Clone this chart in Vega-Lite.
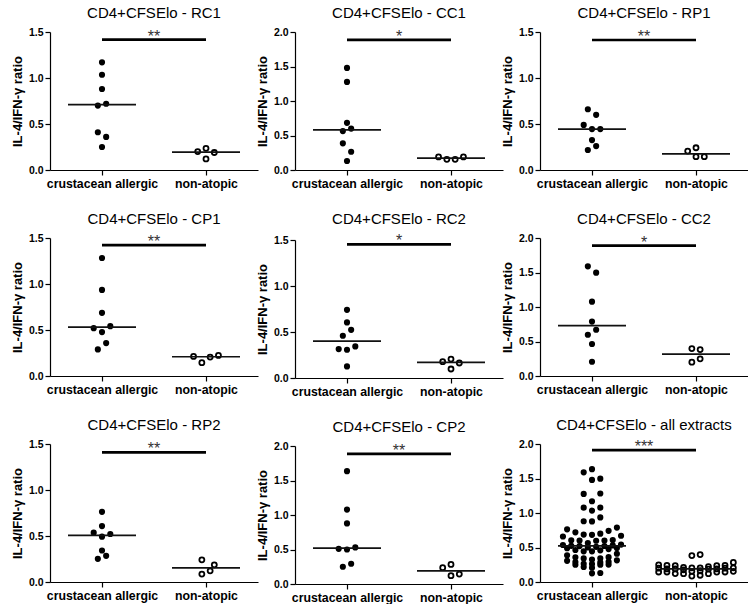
{
  "$schema": "https://vega.github.io/schema/vega-lite/v6.json",
  "padding": {"left": 11, "top": 6, "right": 0, "bottom": 0},
  "config": {
    "font": "Liberation Sans",
    "view": {"stroke": null},
    "axis": {"grid": false, "domainColor": "#000", "tickColor": "#000", "labelColor": "#000", "titleColor": "#000", "labelFont": "Liberation Sans", "titleFont": "Liberation Sans", "tickSize": 5, "domainWidth": 1.2, "tickWidth": 1.2}
  },
  "data": {"values": [
    {"p":"RC1","g":"A","v":1.17,"s":0},{"p":"RC1","g":"A","v":1.035,"s":0},{"p":"RC1","g":"A","v":0.88,"s":0},{"p":"RC1","g":"A","v":0.70,"s":-0.5},{"p":"RC1","g":"A","v":0.72,"s":0.5},{"p":"RC1","g":"A","v":0.41,"s":-0.5},{"p":"RC1","g":"A","v":0.36,"s":0.5},{"p":"RC1","g":"A","v":0.25,"s":0},
    {"p":"RC1","g":"N","v":0.20,"s":-1},{"p":"RC1","g":"N","v":0.236,"s":0},{"p":"RC1","g":"N","v":0.19,"s":1},{"p":"RC1","g":"N","v":0.12,"s":0},
    {"p":"RC1","g":"A","g2":"N","v":1.417,"t":"**"},

    {"p":"CC1","g":"A","v":1.48,"s":0},{"p":"CC1","g":"A","v":1.277,"s":0},{"p":"CC1","g":"A","v":0.684,"s":0},{"p":"CC1","g":"A","v":0.564,"s":-0.5},{"p":"CC1","g":"A","v":0.60,"s":0.5},{"p":"CC1","g":"A","v":0.386,"s":-0.5},{"p":"CC1","g":"A","v":0.265,"s":0.5},{"p":"CC1","g":"A","v":0.13,"s":0},
    {"p":"CC1","g":"N","v":0.19,"s":-1.5},{"p":"CC1","g":"N","v":0.155,"s":-0.5},{"p":"CC1","g":"N","v":0.155,"s":0.5},{"p":"CC1","g":"N","v":0.19,"s":1.5},
    {"p":"CC1","g":"A","g2":"N","v":1.887,"t":"*"},

    {"p":"RP1","g":"A","v":0.66,"s":-0.5},{"p":"RP1","g":"A","v":0.60,"s":0.5},{"p":"RP1","g":"A","v":0.49,"s":-1},{"p":"RP1","g":"A","v":0.445,"s":0},{"p":"RP1","g":"A","v":0.445,"s":1},{"p":"RP1","g":"A","v":0.325,"s":0},{"p":"RP1","g":"A","v":0.26,"s":0.5},{"p":"RP1","g":"A","v":0.217,"s":-0.5},
    {"p":"RP1","g":"N","v":0.206,"s":-1},{"p":"RP1","g":"N","v":0.242,"s":0},{"p":"RP1","g":"N","v":0.145,"s":0},{"p":"RP1","g":"N","v":0.145,"s":1},
    {"p":"RP1","g":"A","g2":"N","v":1.413,"t":"**"},

    {"p":"CP1","g":"A","v":1.283,"s":0},{"p":"CP1","g":"A","v":0.936,"s":0},{"p":"CP1","g":"A","v":0.687,"s":0},{"p":"CP1","g":"A","v":0.52,"s":-1},{"p":"CP1","g":"A","v":0.542,"s":1},{"p":"CP1","g":"A","v":0.477,"s":0},{"p":"CP1","g":"A","v":0.358,"s":0.5},{"p":"CP1","g":"A","v":0.289,"s":-0.5},
    {"p":"CP1","g":"N","v":0.213,"s":-1.5},{"p":"CP1","g":"N","v":0.145,"s":-0.5},{"p":"CP1","g":"N","v":0.206,"s":0.5},{"p":"CP1","g":"N","v":0.224,"s":1.5},
    {"p":"CP1","g":"A","g2":"N","v":1.422,"t":"**"},

    {"p":"RC2","g":"A","v":0.741,"s":0},{"p":"RC2","g":"A","v":0.604,"s":0},{"p":"RC2","g":"A","v":0.524,"s":0.5},{"p":"RC2","g":"A","v":0.459,"s":-0.5},{"p":"RC2","g":"A","v":0.314,"s":-1},{"p":"RC2","g":"A","v":0.307,"s":0},{"p":"RC2","g":"A","v":0.343,"s":1},{"p":"RC2","g":"A","v":0.126,"s":0},
    {"p":"RC2","g":"N","v":0.177,"s":-1},{"p":"RC2","g":"N","v":0.206,"s":0},{"p":"RC2","g":"N","v":0.163,"s":1},{"p":"RC2","g":"N","v":0.098,"s":0},
    {"p":"RC2","g":"A","g2":"N","v":1.453,"t":"*"},

    {"p":"CC2","g":"A","v":1.589,"s":-0.5},{"p":"CC2","g":"A","v":1.498,"s":0.5},{"p":"CC2","g":"A","v":1.077,"s":0},{"p":"CC2","g":"A","v":0.789,"s":0},{"p":"CC2","g":"A","v":0.598,"s":-0.5},{"p":"CC2","g":"A","v":0.67,"s":0.5},{"p":"CC2","g":"A","v":0.464,"s":0},{"p":"CC2","g":"A","v":0.206,"s":0},
    {"p":"CC2","g":"N","v":0.397,"s":-0.5},{"p":"CC2","g":"N","v":0.383,"s":0.5},{"p":"CC2","g":"N","v":0.20,"s":-0.5},{"p":"CC2","g":"N","v":0.249,"s":0.5},
    {"p":"CC2","g":"A","g2":"N","v":1.89,"t":"*"},

    {"p":"RP2","g":"A","v":0.763,"s":0},{"p":"RP2","g":"A","v":0.608,"s":0},{"p":"RP2","g":"A","v":0.536,"s":-1},{"p":"RP2","g":"A","v":0.522,"s":1},{"p":"RP2","g":"A","v":0.493,"s":0},{"p":"RP2","g":"A","v":0.342,"s":0},{"p":"RP2","g":"A","v":0.284,"s":0.5},{"p":"RP2","g":"A","v":0.252,"s":-0.5},
    {"p":"RP2","g":"N","v":0.241,"s":-0.5},{"p":"RP2","g":"N","v":0.187,"s":1},{"p":"RP2","g":"N","v":0.122,"s":0.5},{"p":"RP2","g":"N","v":0.086,"s":-0.5},
    {"p":"RP2","g":"A","g2":"N","v":1.41,"t":"**"},

    {"p":"CP2","g":"A","v":1.635,"s":0},{"p":"CP2","g":"A","v":1.079,"s":0},{"p":"CP2","g":"A","v":0.878,"s":0},{"p":"CP2","g":"A","v":0.51,"s":-1},{"p":"CP2","g":"A","v":0.50,"s":0},{"p":"CP2","g":"A","v":0.53,"s":1},{"p":"CP2","g":"A","v":0.25,"s":-0.5},{"p":"CP2","g":"A","v":0.293,"s":0.5},
    {"p":"CP2","g":"N","v":0.236,"s":-1},{"p":"CP2","g":"N","v":0.284,"s":0},{"p":"CP2","g":"N","v":0.12,"s":0},{"p":"CP2","g":"N","v":0.144,"s":1},
    {"p":"CP2","g":"A","g2":"N","v":1.885,"t":"**"},

    {"p":"all extracts","g":"A","v":1.635,"s":0},{"p":"all extracts","g":"A","v":1.589,"s":-1},{"p":"all extracts","g":"A","v":1.48,"s":0},{"p":"all extracts","g":"A","v":1.498,"s":1},{"p":"all extracts","g":"A","v":1.277,"s":-1},{"p":"all extracts","g":"A","v":1.283,"s":1},{"p":"all extracts","g":"A","v":1.17,"s":0},{"p":"all extracts","g":"A","v":1.077,"s":-1},{"p":"all extracts","g":"A","v":1.035,"s":0},{"p":"all extracts","g":"A","v":1.079,"s":1},{"p":"all extracts","g":"A","v":0.88,"s":-1},{"p":"all extracts","g":"A","v":0.878,"s":0},{"p":"all extracts","g":"A","v":0.936,"s":1},
    {"p":"all extracts","g":"A","v":0.684,"s":0},{"p":"all extracts","g":"A","v":0.687,"s":-1},{"p":"all extracts","g":"A","v":0.70,"s":1},{"p":"all extracts","g":"A","v":0.72,"s":-2},{"p":"all extracts","g":"A","v":0.741,"s":2},{"p":"all extracts","g":"A","v":0.763,"s":-3},{"p":"all extracts","g":"A","v":0.789,"s":3},
    {"p":"all extracts","g":"A","v":0.564,"s":-0.5},{"p":"all extracts","g":"A","v":0.598,"s":0.5},{"p":"all extracts","g":"A","v":0.60,"s":-1.5},{"p":"all extracts","g":"A","v":0.60,"s":1.5},{"p":"all extracts","g":"A","v":0.604,"s":-2.5},{"p":"all extracts","g":"A","v":0.608,"s":2.5},{"p":"all extracts","g":"A","v":0.66,"s":-3.5},{"p":"all extracts","g":"A","v":0.67,"s":3.5},
    {"p":"all extracts","g":"A","v":0.50,"s":-0.5},{"p":"all extracts","g":"A","v":0.51,"s":0.5},{"p":"all extracts","g":"A","v":0.52,"s":-1.5},{"p":"all extracts","g":"A","v":0.522,"s":1.5},{"p":"all extracts","g":"A","v":0.524,"s":-2.5},{"p":"all extracts","g":"A","v":0.53,"s":2.5},{"p":"all extracts","g":"A","v":0.536,"s":-3.5},{"p":"all extracts","g":"A","v":0.542,"s":3.5},
    {"p":"all extracts","g":"A","v":0.445,"s":0},{"p":"all extracts","g":"A","v":0.445,"s":-1},{"p":"all extracts","g":"A","v":0.459,"s":1},{"p":"all extracts","g":"A","v":0.464,"s":-2},{"p":"all extracts","g":"A","v":0.477,"s":2},{"p":"all extracts","g":"A","v":0.49,"s":-3},{"p":"all extracts","g":"A","v":0.493,"s":3},
    {"p":"all extracts","g":"A","v":0.325,"s":0},{"p":"all extracts","g":"A","v":0.342,"s":-1},{"p":"all extracts","g":"A","v":0.343,"s":1},{"p":"all extracts","g":"A","v":0.358,"s":-2},{"p":"all extracts","g":"A","v":0.36,"s":2},{"p":"all extracts","g":"A","v":0.386,"s":-3},{"p":"all extracts","g":"A","v":0.41,"s":3},
    {"p":"all extracts","g":"A","v":0.26,"s":0},{"p":"all extracts","g":"A","v":0.265,"s":-1},{"p":"all extracts","g":"A","v":0.284,"s":1},{"p":"all extracts","g":"A","v":0.289,"s":-2},{"p":"all extracts","g":"A","v":0.293,"s":2},{"p":"all extracts","g":"A","v":0.307,"s":-3},{"p":"all extracts","g":"A","v":0.314,"s":3},
    {"p":"all extracts","g":"A","v":0.206,"s":0},{"p":"all extracts","g":"A","v":0.217,"s":-1},{"p":"all extracts","g":"A","v":0.25,"s":1},{"p":"all extracts","g":"A","v":0.25,"s":-2},{"p":"all extracts","g":"A","v":0.252,"s":2},
    {"p":"all extracts","g":"A","v":0.126,"s":0},{"p":"all extracts","g":"A","v":0.13,"s":1},
    {"p":"all extracts","g":"N","v":0.383,"s":-0.5},{"p":"all extracts","g":"N","v":0.397,"s":0.5},
    {"p":"all extracts","g":"N","v":0.086,"s":-0.5},{"p":"all extracts","g":"N","v":0.098,"s":0.5},{"p":"all extracts","g":"N","v":0.12,"s":-1.5},{"p":"all extracts","g":"N","v":0.12,"s":1.5},{"p":"all extracts","g":"N","v":0.122,"s":-2.5},{"p":"all extracts","g":"N","v":0.144,"s":2.5},{"p":"all extracts","g":"N","v":0.145,"s":-3.5},{"p":"all extracts","g":"N","v":0.145,"s":3.5},{"p":"all extracts","g":"N","v":0.145,"s":-4.5},{"p":"all extracts","g":"N","v":0.155,"s":4.5},
    {"p":"all extracts","g":"N","v":0.155,"s":-0.5},{"p":"all extracts","g":"N","v":0.163,"s":0.5},{"p":"all extracts","g":"N","v":0.177,"s":-1.5},{"p":"all extracts","g":"N","v":0.187,"s":1.5},{"p":"all extracts","g":"N","v":0.19,"s":-2.5},{"p":"all extracts","g":"N","v":0.19,"s":2.5},{"p":"all extracts","g":"N","v":0.19,"s":-3.5},{"p":"all extracts","g":"N","v":0.20,"s":3.5},{"p":"all extracts","g":"N","v":0.20,"s":-4.5},{"p":"all extracts","g":"N","v":0.206,"s":4.5},
    {"p":"all extracts","g":"N","v":0.206,"s":-0.5},{"p":"all extracts","g":"N","v":0.206,"s":0.5},{"p":"all extracts","g":"N","v":0.213,"s":-1.5},{"p":"all extracts","g":"N","v":0.224,"s":1.5},{"p":"all extracts","g":"N","v":0.236,"s":-2.5},{"p":"all extracts","g":"N","v":0.236,"s":2.5},{"p":"all extracts","g":"N","v":0.241,"s":-3.5},{"p":"all extracts","g":"N","v":0.242,"s":3.5},{"p":"all extracts","g":"N","v":0.249,"s":-4.5},{"p":"all extracts","g":"N","v":0.284,"s":4.5},
    {"p":"all extracts","g":"A","g2":"N","v":1.91,"t":"***"}
  ]},
  "facet": {
    "field": "p", "type": "nominal",
    "sort": ["RC1","CC1","RP1","CP1","RC2","CC2","RP2","CP2","all extracts"],
    "header": {"title": null, "labelFont": "Liberation Sans", "labelFontSize": 15, "labelColor": "#000", "labelPadding": 6, "labelExpr": "'CD4+CFSElo - ' + datum.value"}
  },
  "columns": 3,
  "spacing": {"row": 22, "column": -2},
  "resolve": {"scale": {"x": "independent", "y": "independent"}},
  "spec": {
    "width": 208,
    "height": 138,
    "layer": [
      {
        "transform": [{"filter": "!datum.t && datum.g == 'A'"}],
        "mark": {"type": "point", "shape": "circle", "filled": true, "color": "#000", "size": 38, "opacity": 1},
        "encoding": {
          "x": {"field": "g", "type": "nominal", "scale": {"type": "point", "padding": 0.5, "domain": ["A", "N"]}, "axis": {"title": null, "labelAngle": 0, "labelExpr": "datum.value == 'A' ? 'crustacean allergic' : 'non-atopic'", "labelFontSize": 12.3, "labelFontWeight": "bold", "labelPadding": 2}},
          "xOffset": {"field": "s", "type": "quantitative", "scale": {"domain": [-1, 1], "range": [-8.3, 8.3]}},
          "y": {"field": "v", "type": "quantitative", "scale": {"nice": 4, "zero": true}, "axis": {"title": "IL-4/IFN-γ ratio", "titleFontSize": 13, "titleFontWeight": "bold", "tickCount": 4, "format": ".1f", "labelFontSize": 10.5, "labelFontWeight": "bold", "labelPadding": 2, "titlePadding": 4}}
        }
      },
      {
        "transform": [{"filter": "!datum.t && datum.g == 'N'"}],
        "mark": {"type": "point", "shape": "circle", "filled": false, "stroke": "#000", "strokeWidth": 1.8, "size": 25, "opacity": 1},
        "encoding": {
          "x": {"field": "g", "type": "nominal", "scale": {"type": "point", "padding": 0.5, "domain": ["A", "N"]}},
          "xOffset": {"field": "s", "type": "quantitative", "scale": {"domain": [-1, 1], "range": [-8.3, 8.3]}},
          "y": {"field": "v", "type": "quantitative"}
        }
      },
      {
        "transform": [{"filter": "!datum.t"}],
        "mark": {"type": "tick", "color": "#111", "size": 68, "thickness": 1.7},
        "encoding": {
          "x": {"field": "g", "type": "nominal"},
          "y": {"field": "v", "type": "quantitative", "aggregate": "median"}
        }
      },
      {
        "transform": [{"filter": "datum.t"}],
        "mark": {"type": "rule", "color": "#000", "strokeWidth": 2.7},
        "encoding": {
          "x": {"field": "g", "type": "nominal"},
          "x2": {"field": "g2"},
          "y": {"field": "v", "type": "quantitative"}
        }
      },
      {
        "transform": [{"filter": "datum.t"}],
        "mark": {"type": "text", "x": {"expr": "child_width / 2"}, "dy": 2, "fontSize": 16, "baseline": "alphabetic", "align": "center", "color": "#333"},
        "encoding": {
          "text": {"field": "t"},
          "y": {"field": "v", "type": "quantitative"}
        }
      }
    ]
  }
}
